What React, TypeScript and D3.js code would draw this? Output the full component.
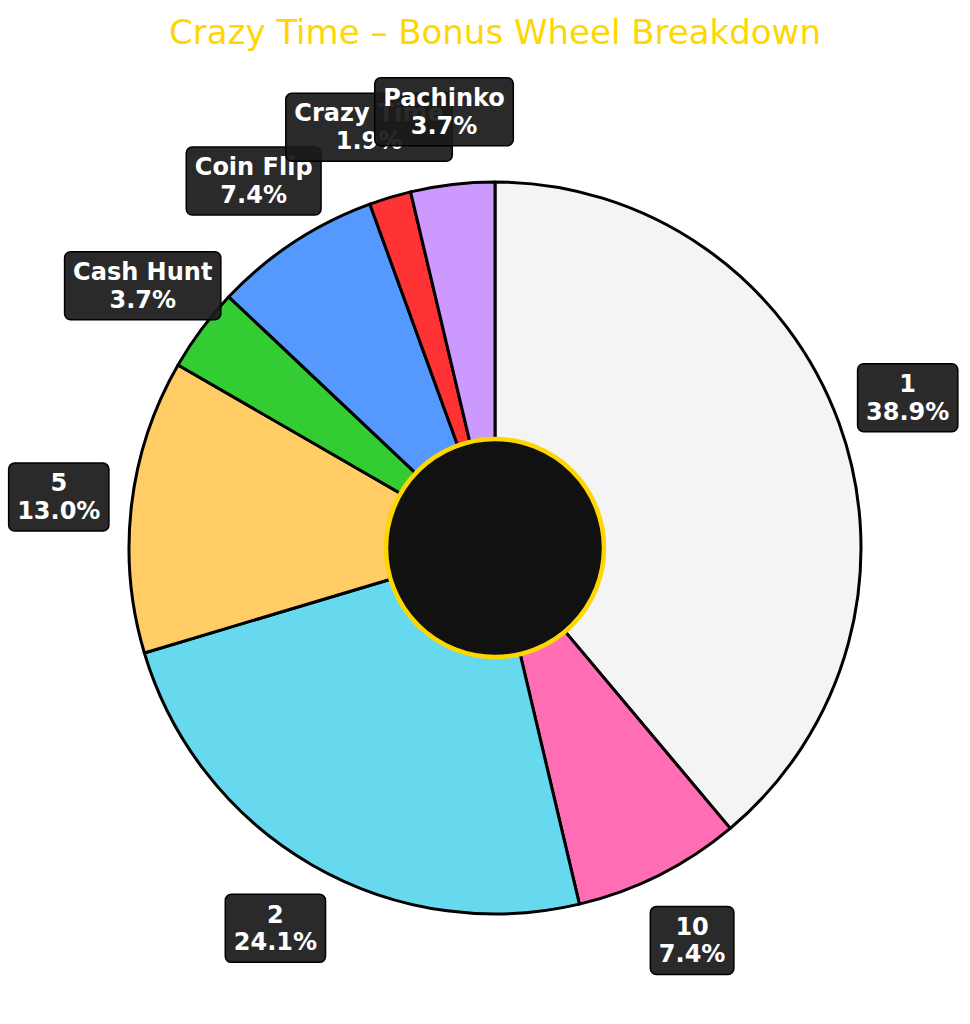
import React, { useEffect, useRef } from "react";
import * as d3 from "d3";

const categories = ["1", "10", "2", "5", "Cash Hunt", "Coin Flip", "Crazy Time", "Pachinko"];
const segmentCounts = [21, 4, 13, 7, 2, 4, 1, 2];
const sliceColors = ["#f4f4f4", "#ff6eb4", "#66d9ee", "#ffcc66", "#33cc33", "#5599ff", "#ff3333", "#cc99ff"];
const titleText = "Crazy Time – Bonus Wheel Breakdown";

const W = 970;
const H = 1024;
const CX = 495;
const CY = 548;
const R = 366;
const HOLE = 109;

export default function App() {
  const ref = useRef<SVGSVGElement>(null);

  useEffect(() => {
    const svg = d3.select(ref.current);
    svg.selectAll("*").remove();
    svg.append("rect").attr("width", W).attr("height", H).attr("fill", "#ffffff");

    svg
      .append("text")
      .attr("x", CX)
      .attr("y", 44)
      .attr("text-anchor", "middle")
      .attr("font-family", "DejaVu Sans")
      .attr("font-size", 34)
      .attr("fill", "#FFD700")
      .text(titleText);

    const total = d3.sum(segmentCounts);
    const pie = d3.pie<number>().sort(null).value((d) => d);
    const arcs = pie(segmentCounts);
    const arc = d3.arc<d3.PieArcDatum<number>>().innerRadius(0).outerRadius(R);

    const g = svg.append("g").attr("transform", `translate(${CX},${CY})`);
    g.selectAll("path.slice")
      .data(arcs)
      .enter()
      .append("path")
      .attr("class", "slice")
      .attr("d", arc as any)
      .attr("fill", (_d, i) => sliceColors[i])
      .attr("stroke", "#000")
      .attr("stroke-width", 3)
      .attr("stroke-linejoin", "round");

    g.append("circle")
      .attr("r", HOLE)
      .attr("fill", "#111111")
      .attr("stroke", "#FFD700")
      .attr("stroke-width", 4.5);

    const labelR = R * 1.2;
    const fs = 24;
    const lh = fs * 1.15;
    arcs.forEach((a, i) => {
      const mid = (a.startAngle + a.endAngle) / 2;
      const x = Math.sin(mid) * labelR;
      const y = -Math.cos(mid) * labelR;
      const lg = g.append("g").attr("transform", `translate(${x},${y})`);
      const rect = lg.append("rect");
      const t = lg
        .append("text")
        .attr("text-anchor", "middle")
        .attr("font-family", "DejaVu Sans")
        .attr("font-weight", "bold")
        .attr("font-size", fs)
        .attr("fill", "#ffffff");
      t.append("tspan").attr("x", 0).attr("y", -lh / 2).attr("dominant-baseline", "central").text(categories[i]);
      t.append("tspan")
        .attr("x", 0)
        .attr("y", lh / 2)
        .attr("dominant-baseline", "central")
        .text(((segmentCounts[i] / total) * 100).toFixed(1) + "%");
      const bb = (t.node() as SVGTextElement).getBBox();
      const padX = 8.5;
      const hh = 68;
      rect
        .attr("x", bb.x - padX)
        .attr("y", -hh / 2)
        .attr("width", bb.width + padX * 2)
        .attr("height", hh)
        .attr("rx", 6)
        .attr("fill", "#1a1a1a")
        .attr("fill-opacity", 0.93)
        .attr("stroke", "#000")
        .attr("stroke-width", 1.5);
    });
  }, []);

  return (
    <svg
      ref={ref}
      width={W}
      height={H}
      style={{ position: "absolute", left: 0, top: 0, display: "block" }}
    />
  );
}
